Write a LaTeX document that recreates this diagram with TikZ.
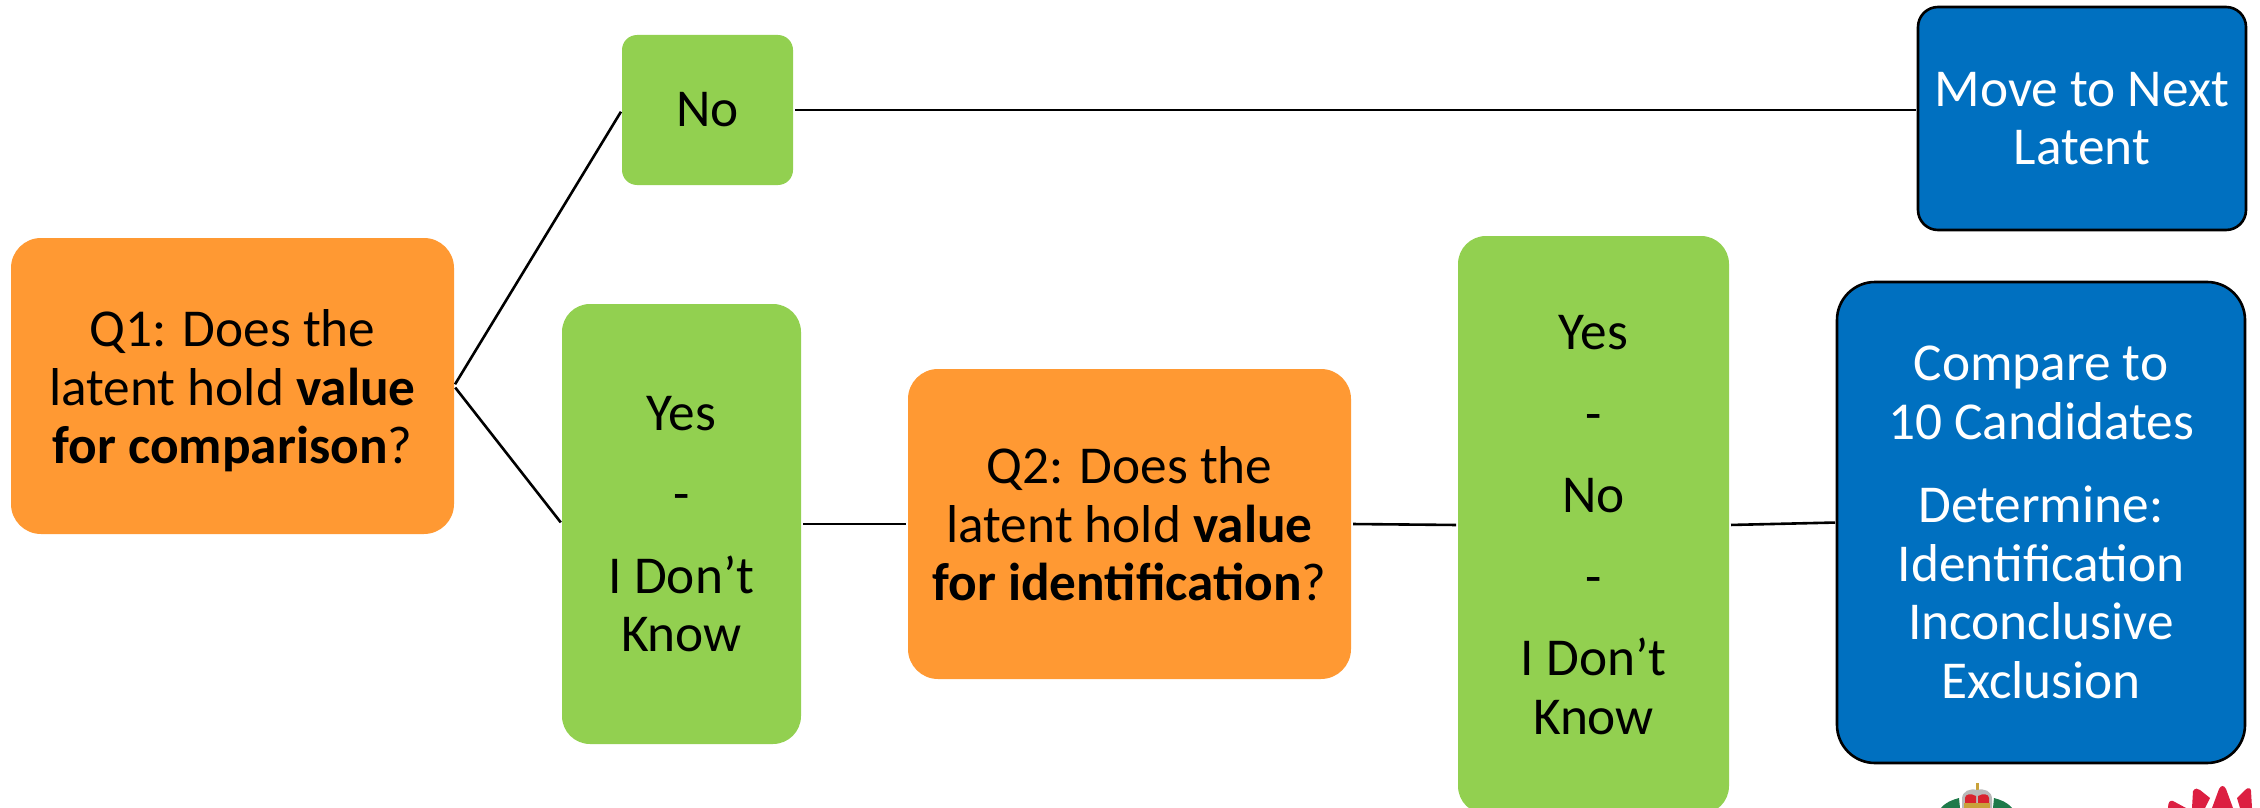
\documentclass[tikz,border=0pt]{standalone}
\usepackage{fontspec}
\setmainfont{Carlito}
\definecolor{qorange}{HTML}{FF9933}
\definecolor{agreen}{HTML}{92D050}
\definecolor{oblue}{HTML}{0070C0}
\definecolor{crest}{HTML}{1F7A4A}
\definecolor{crownred}{HTML}{D9232E}
\definecolor{crowngold}{HTML}{C9A23A}
\definecolor{petal}{HTML}{DC1F41}
\tikzset{
  x=1pt,y=-1pt,
  box/.style={rectangle,inner sep=0pt,outer sep=0pt,align=center,font=\fontsize{53.3}{58.5}\selectfont},
  qbox/.style={box,fill=qorange,text=black,rounded corners=30pt},
  abox/.style={box,fill=agreen,text=black},
  obox/.style={box,fill=oblue,text=white,draw=black,line width=2.6pt},
  link/.style={draw=black,line width=2.6pt,shorten <=2pt,shorten >=2pt},
}
\begin{document}
\begin{tikzpicture}
\useasboundingbox (0,0) rectangle (2260,808);
\begin{scope}
\clip (0,0) rectangle (2260,808);
\node[qbox,minimum width=443pt,minimum height=296pt] (q1) at (232.5,386) {\rule{0pt}{47pt}Q1: Does the\\latent hold \textbf{value}\\\textbf{for comparison}?};
\node[abox,rounded corners=15pt,minimum width=171pt,minimum height=150pt] (no) at (707.5,110) {No};
\node[abox,rounded corners=28pt,minimum width=239pt,minimum height=440pt] (yi) at (681.5,524) {Yes\\[23pt]-\\[23pt]I Don’t\\Know};
\node[qbox,minimum width=443pt,minimum height=310pt] (q2) at (1129.5,524) {Q2: Does the\\latent hold \textbf{value}\\\textbf{for identification}?};
\node[abox,rounded corners=28pt,minimum width=271pt,minimum height=578pt] (yn) at (1593.5,525) {Yes\\[23pt]-\\[23pt]No\\[23pt]-\\[23pt]I Don’t\\Know};
\node[obox,rounded corners=20pt,minimum width=328pt,minimum height=223pt] (mv) at (2082,118.5) {Move to Next\\Latent};
\node[obox,rounded corners=38pt,minimum width=408pt,minimum height=481pt] (cp) at (2041,522.5) {Compare to\\10 Candidates\\[25pt]Determine:\\Identification\\Inconclusive\\Exclusion};
\draw[link] (q1.east) -- (no.west);
\draw[link] (q1.east) -- (yi.west);
\draw[link] (no.east) -- (no.east -| mv.west);
\draw[link] (yi.east) -- (q2.west);
\draw[link] (q2.east) -- (yn.west);
\draw[link] (yn.east) -- (cp.west);
% crest (top of the logo, cut by the picture edge)
\fill[crest] (1941,808) .. controls (1946,802) and (1952,800) .. (1959,798) -- (1960,808) -- cycle;
\fill[crest] (2012,808) .. controls (2007,802) and (2001,800) .. (1994,798) -- (1993,808) -- cycle;
\fill[crowngold] (1975.5,783) rectangle (1978.5,792);
\fill[gray!55] (1962,808) -- (1962,799) .. controls (1962,791) and (1970,788) .. (1977,790) .. controls (1984,788) and (1992,791) .. (1992,799) -- (1992,808) -- cycle;
\fill[crownred] (1965,804) -- (1965,798) .. controls (1965,794) and (1971,793) .. (1976,796) -- (1976,804) -- cycle;
\fill[crownred] (1989,804) -- (1989,798) .. controls (1989,794) and (1983,793) .. (1978,796) -- (1978,804) -- cycle;
\fill[crowngold] (1964,803) rectangle (1990,808);
% waratah (top of the logo, cut by the picture edge)
\fill[petal] (2168,808) .. controls (2168,802) and (2170,800) .. (2173,801) -- (2186,808) -- cycle;
\fill[petal] (2192,808) -- (2193,791) .. controls (2195,788) and (2198,788) .. (2200,790) -- (2210,798) -- (2205,808) -- cycle;
\fill[petal] (2212,808) -- (2219,789) .. controls (2221,785) and (2224,785) .. (2226,789) -- (2233,808) -- cycle;
\fill[petal] (2240,808) -- (2237,798) -- (2245,790) .. controls (2248,787) and (2251,788) .. (2251,791) -- (2252,808) -- cycle;
\end{scope}
\end{tikzpicture}
\end{document}
